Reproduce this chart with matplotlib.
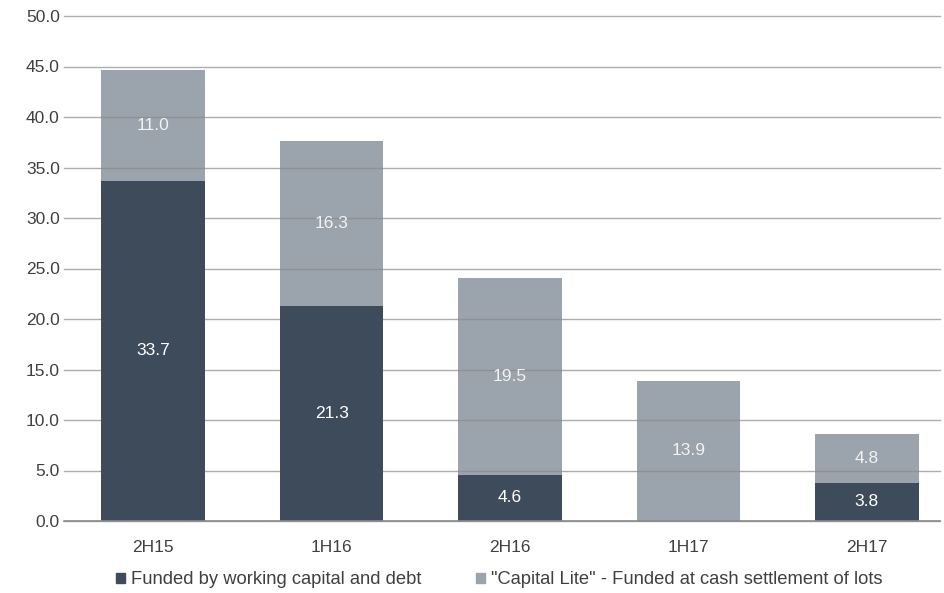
import matplotlib
matplotlib.use("Agg")
import matplotlib.pyplot as plt
from matplotlib.patches import Patch

plt.rcParams['font.family'] = ['Liberation Sans', 'DejaVu Sans']

periods = ["2H15", "1H16", "2H16", "1H17", "2H17"]
funded_debt = [33.7, 21.3, 4.6, 0.0, 3.8]
capital_lite = [11.0, 16.3, 19.5, 13.9, 4.8]
yticks = [0, 5, 10, 15, 20, 25, 30, 35, 40, 45, 50]

dark = "#3e4b5b"
light = "#9ba3ac"
text_gray = "#404040"
fs = 12.5

fig = plt.figure(figsize=(9.45, 5.93), dpi=100)
ax = fig.add_axes([64 / 945, 1 - 521 / 593, 876 / 945, 505 / 593])

x = list(range(len(periods)))
w = 0.58
ax.bar(x, funded_debt, width=w, color=dark, zorder=4)
ax.bar(x, capital_lite, width=w, bottom=funded_debt, color=light, zorder=2)

for i in x:
    if funded_debt[i] > 0:
        ax.text(i, funded_debt[i] / 2, f"{funded_debt[i]:.1f}", ha="center", va="center",
                color="white", fontsize=fs, zorder=5)
    ax.text(i, funded_debt[i] + capital_lite[i] / 2, f"{capital_lite[i]:.1f}", ha="center",
            va="center", color="#f2f2f2", fontsize=fs, zorder=5)

ax.set_ylim(0, 50)
ax.set_xlim(-0.5, 4.41)
ax.set_yticks(yticks)
ax.set_yticklabels([f"{v:.1f}" for v in yticks])
ax.set_xticks(x)
ax.set_xticklabels(periods)
ax.tick_params(axis="both", length=0, labelsize=fs, colors=text_gray)
ax.tick_params(axis="y", pad=3)
ax.tick_params(axis="x", pad=14)
for s in ax.spines.values():
    s.set_visible(False)
ax.yaxis.grid(True, color="#8a8a8a", linewidth=1.0, alpha=0.7)
ax.set_axisbelow(False)
for gl in ax.get_ygridlines():
    gl.set_zorder(3)
    gl.set_clip_on(False)
ax.axhline(0, color="#8a8a8a", linewidth=1.2, zorder=6, clip_on=False)

handles = [Patch(color=dark, label="Funded by working capital and debt"),
           Patch(color=light, label='"Capital Lite" - Funded at cash settlement of lots')]
fig.legend(handles=handles, loc="center", bbox_to_anchor=(0.528, 1 - 580 / 593), ncol=2,
           frameon=False, fontsize=13.2, handlelength=0.5, handleheight=0.5,
           handletextpad=0.3, columnspacing=3.0, labelcolor=text_gray)

fig.savefig("out.png", dpi=100)
